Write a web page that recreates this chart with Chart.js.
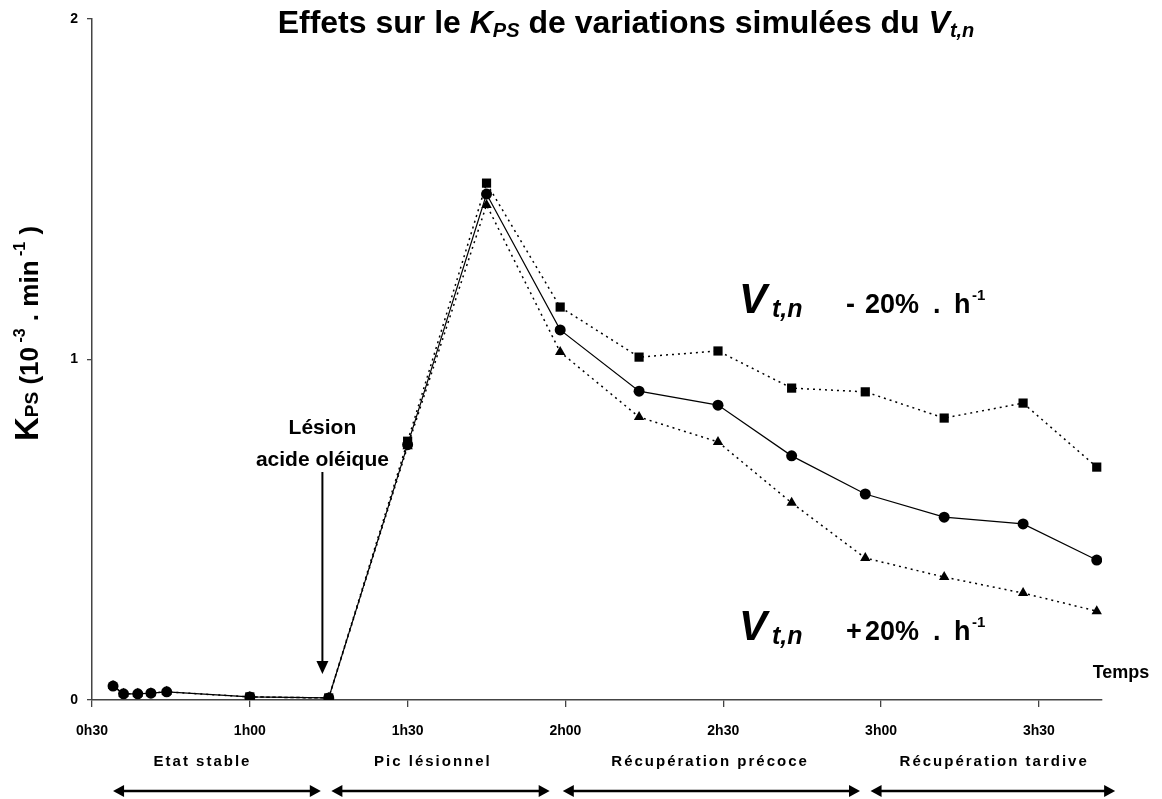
<!DOCTYPE html>
<html>
<head>
<meta charset="utf-8">
<script src="https://cdn.jsdelivr.net/npm/chart.js@4.4.1/dist/chart.umd.min.js"></script>
<style>
  html, body { margin: 0; padding: 0; background: #fff; }
</style>
</head>
<body>
<canvas id="kps" width="1162" height="799"></canvas>
<script>
// temps en minutes
const timeMin = [34, 36, 38.7, 41.2, 44.2, 60, 75, 90, 105, 119, 134, 149, 163, 177, 192, 207, 221];
// K_PS (10^-3 . min^-1)
const kpsBase    = [0.041, 0.018, 0.018, 0.02, 0.024, 0.009, 0.006, 0.75, 1.486, 1.087, 0.907, 0.866, 0.717, 0.605, 0.537, 0.517, 0.411];
const kpsMinus20 = [null, null, null, null, null, 0.009, 0.006, 0.76, 1.518, 1.154, 1.007, 1.025, 0.916, 0.905, 0.828, 0.872, 0.684];
const kpsPlus20  = [0.041, 0.018, 0.018, 0.02, 0.024, 0.009, 0.006, 0.745, 1.454, 1.022, 0.831, 0.758, 0.579, 0.417, 0.361, 0.314, 0.261];

const xTickValues = [30, 60, 90, 120, 150, 180, 210];
const xTickLabels = ['0h30', '1h00', '1h30', '2h00', '2h30', '3h00', '3h30'];
const yTickValues = [0, 1, 2];

const phaseLabels = ['Etat stable', 'Pic lésionnel', 'Récupération précoce', 'Récupération tardive'];
const phaseStart  = [34, 75.5, 119.5, 178];
const phaseEnd    = [73.5, 117, 176, 224.5];
const phaseTextAt = [51, 94.8, 147.5, 201.5];
const lesionTime = 73.8;

const FONT = '"Liberation Sans", Arial, sans-serif';

function pts(values) {
  return timeMin.map((t, i) => ({ x: t, y: values[i] }));
}

// draw a list of text pieces one after the other
function drawRuns(ctx, runs, x, y, align) {
  let total = 0;
  runs.forEach(r => { ctx.font = r.f; total += ctx.measureText(r.t).width; });
  let cx = align === 'center' ? x - total / 2 : x;
  runs.forEach(r => {
    ctx.font = r.f;
    ctx.fillText(r.t, cx, y + (r.dy || 0));
    cx += ctx.measureText(r.t).width;
  });
}

function arrowHead(ctx, x, y, dir, len, half) {
  ctx.beginPath();
  if (dir === 'right') { ctx.moveTo(x, y); ctx.lineTo(x - len, y - half); ctx.lineTo(x - len, y + half); }
  if (dir === 'left')  { ctx.moveTo(x, y); ctx.lineTo(x + len, y - half); ctx.lineTo(x + len, y + half); }
  if (dir === 'down')  { ctx.moveTo(x, y); ctx.lineTo(x - half, y - len); ctx.lineTo(x + half, y - len); }
  ctx.closePath();
  ctx.fill();
}

function drawVLabel(ctx, x0, base, sign) {
  ctx.font = 'italic bold 42px ' + FONT;
  ctx.fillText('V', x0, base);
  ctx.font = 'italic bold 25px ' + FONT;
  ctx.fillText('t,n', x0 + 33, base + 4);
  ctx.font = 'bold 27px ' + FONT;
  ctx.fillText(sign, x0 + 107, base);
  ctx.fillText('20%', x0 + 126, base);
  ctx.fillText('.', x0 + 194, base);
  ctx.fillText('h', x0 + 215, base);
  ctx.font = 'bold 15px ' + FONT;
  ctx.fillText('-1', x0 + 233, base - 13);
}

const annotations = {
  id: 'annotations',
  afterDraw(chart) {
    const { ctx, scales: { x } } = chart;
    ctx.save();
    ctx.fillStyle = '#000';
    ctx.strokeStyle = '#000';
    ctx.textBaseline = 'alphabetic';
    ctx.textAlign = 'left';

    // titre
    drawRuns(ctx, [
      { t: 'Effets sur le ', f: 'bold 32px ' + FONT },
      { t: 'K', f: 'italic bold 32px ' + FONT },
      { t: 'PS', f: 'italic bold 20px ' + FONT, dy: 4 },
      { t: ' de variations simulées du ', f: 'bold 32px ' + FONT },
      { t: 'V', f: 'italic bold 32px ' + FONT },
      { t: 't,n', f: 'italic bold 20px ' + FONT, dy: 4 }
    ], 626, 33, 'center');

    // titre axe y
    ctx.save();
    ctx.translate(38, 441);
    ctx.rotate(-Math.PI / 2);
    drawRuns(ctx, [
      { t: 'K', f: 'bold 33px ' + FONT },
      { t: 'PS', f: 'bold 19px ' + FONT },
      { t: ' (10', f: 'bold 26px ' + FONT },
      { t: ' -3', f: 'bold 16px ' + FONT, dy: -13 },
      { t: ' . ', f: 'bold 26px ' + FONT },
      { t: 'min', f: 'bold 26px ' + FONT },
      { t: ' -1', f: 'bold 16px ' + FONT, dy: -13 },
      { t: ' )', f: 'bold 26px ' + FONT }
    ], 0, 0, 'left');
    ctx.restore();

    // lésion
    const lx = x.getPixelForValue(lesionTime);
    ctx.textAlign = 'center';
    ctx.font = 'bold 21px ' + FONT;
    ctx.fillText('Lésion', lx, 434);
    ctx.fillText('acide oléique', lx, 466);
    ctx.lineWidth = 2;
    ctx.beginPath();
    ctx.moveTo(lx, 472);
    ctx.lineTo(lx, 662);
    ctx.stroke();
    arrowHead(ctx, lx, 674, 'down', 13, 6);

    // Temps
    ctx.font = 'bold 18px ' + FONT;
    ctx.textBaseline = 'middle';
    ctx.fillText('Temps', 1121, 673);

    // phases
    ctx.font = 'bold 15px ' + FONT;
    ctx.letterSpacing = '2px';
    phaseLabels.forEach((lab, i) => {
      const a = x.getPixelForValue(phaseStart[i]);
      const b = x.getPixelForValue(phaseEnd[i]);
      ctx.fillText(lab, x.getPixelForValue(phaseTextAt[i]), 762);
      ctx.lineWidth = 2.5;
      ctx.beginPath();
      ctx.moveTo(a + 6, 791);
      ctx.lineTo(b - 6, 791);
      ctx.stroke();
      arrowHead(ctx, a, 791, 'left', 11, 6);
      arrowHead(ctx, b, 791, 'right', 11, 6);
    });
    ctx.letterSpacing = '0px';

    // étiquettes des séries
    ctx.textAlign = 'left';
    ctx.textBaseline = 'alphabetic';
    drawVLabel(ctx, 739, 313, '-');
    drawVLabel(ctx, 739, 640, '+');
    ctx.restore();
  }
};

const tickFont = { family: FONT, size: 14, weight: 'bold' };

new Chart(document.getElementById('kps'), {
  type: 'line',
  data: {
    datasets: [
      {
        label: 'Vt,n - 20%',
        data: pts(kpsMinus20),
        borderColor: '#000',
        borderWidth: 1.5,
        borderDash: [2, 4],
        pointStyle: 'rect',
        pointRadius: 6.5,
        pointBackgroundColor: '#000',
        pointBorderWidth: 0,
        tension: 0,
        order: 0
      },
      {
        label: 'Vt,n',
        data: pts(kpsBase),
        borderColor: '#000',
        borderWidth: 1.2,
        pointStyle: 'circle',
        pointRadius: 5.5,
        pointBackgroundColor: '#000',
        pointBorderWidth: 0,
        tension: 0,
        order: 1
      },
      {
        label: 'Vt,n + 20%',
        data: pts(kpsPlus20),
        borderColor: '#000',
        borderWidth: 1.5,
        borderDash: [2, 4],
        pointStyle: 'triangle',
        pointRadius: 6,
        pointBackgroundColor: '#000',
        pointBorderWidth: 0,
        tension: 0,
        order: 2
      }
    ]
  },
  options: {
    responsive: false,
    animation: false,
    devicePixelRatio: 1,
    layout: { padding: { top: 19, right: 60, left: 0, bottom: 0 } },
    plugins: {
      legend: { display: false },
      tooltip: { enabled: false },
      title: { display: false }
    },
    scales: {
      x: {
        type: 'linear',
        min: 30,
        max: 222,
        afterBuildTicks: s => { s.ticks = xTickValues.map(v => ({ value: v })); },
        afterFit: s => { s.height = 99; },
        ticks: {
          callback: v => xTickLabels[xTickValues.indexOf(v)],
          font: tickFont,
          color: '#000',
          padding: 16,
          maxRotation: 0,
          autoSkip: false
        },
        grid: { drawOnChartArea: false, tickLength: 7, color: '#444', lineWidth: 1.3 },
        border: { color: '#444', width: 1.5 }
      },
      y: {
        min: 0,
        max: 2,
        afterBuildTicks: s => { s.ticks = yTickValues.map(v => ({ value: v })); },
        afterFit: s => { s.width = 92; },
        ticks: { font: tickFont, color: '#000', padding: 9 },
        grid: { drawOnChartArea: false, tickLength: 5, color: '#444', lineWidth: 1.3 },
        border: { color: '#444', width: 1.5 }
      }
    }
  },
  plugins: [annotations]
});
</script>
</body>
</html>
